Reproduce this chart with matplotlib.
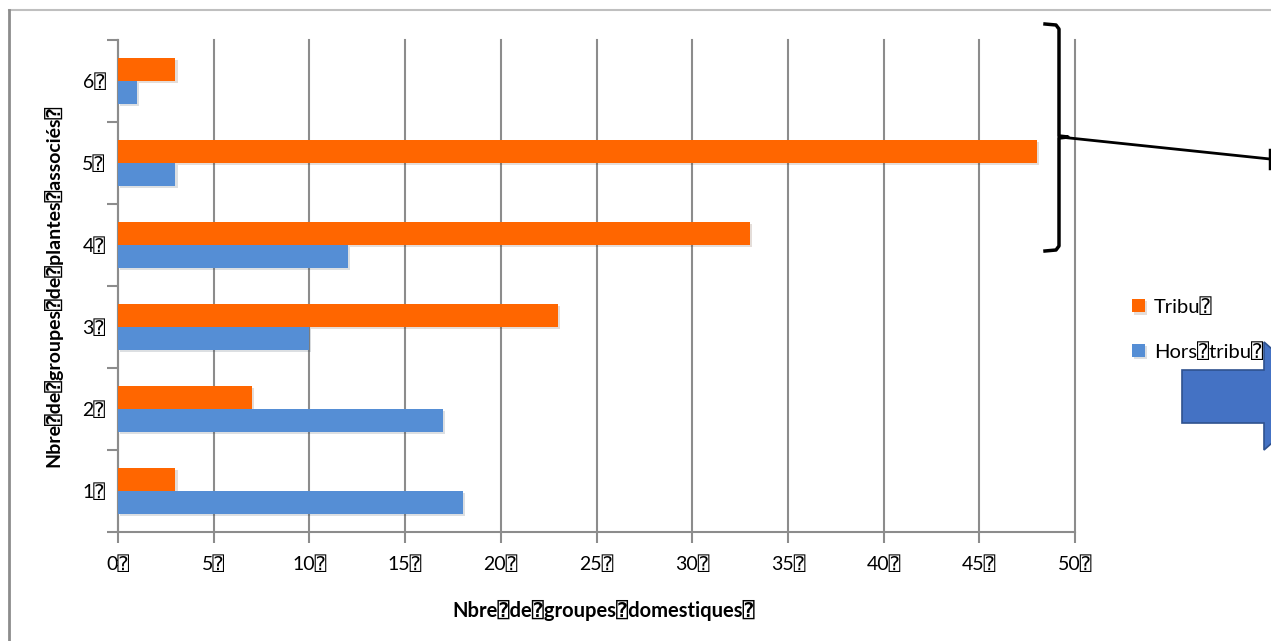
import numpy as np
import matplotlib.pyplot as plt
from matplotlib.lines import Line2D
from matplotlib.patches import Polygon
import matplotlib.patheffects as pe

plt.rcParams['font.family'] = ['Lato', 'DejaVu Sans Mono', 'DejaVu Sans']

categories = ['1⍰', '2⍰', '3⍰', '4⍰', '5⍰', '6⍰']
tribu = [3, 7, 23, 33, 48, 3]
hors_tribu = [18, 17, 10, 12, 3, 1]
xticks = list(range(0, 55, 5))
xticklabels = [f'{v}⍰' for v in xticks]

orange = '#FF6600'
blue = '#558ED5'
grid_grey = '#8C8C8C'

W, H = 1271, 641
fig = plt.figure(figsize=(W / 100, H / 100), dpi=100)


def px(x, y):
    return x / W, 1 - y / H


ax = fig.add_axes([118 / W, 109 / H, 957 / W, 492 / H])

y = np.arange(len(categories))
bh = 0.28
shadow = [pe.SimplePatchShadow(offset=(1.5, -1.5), alpha=0.15), pe.Normal()]
ax.barh(y + bh / 2, tribu, height=bh, color=orange, label='Tribu⍰',
        path_effects=shadow, zorder=3)
ax.barh(y - bh / 2, hors_tribu, height=bh, color=blue, label='Hors⍰tribu⍰',
        path_effects=shadow, zorder=3)

ax.set_xlim(0, 50)
ax.set_ylim(-0.5, len(categories) - 0.5)

ax.set_xticks(xticks)
ax.set_xticklabels(xticklabels, fontsize=14)
ax.set_yticks(np.arange(-0.5, len(categories), 1.0))
ax.set_yticklabels([])
ax.set_yticks(y, minor=True)
ax.set_yticklabels(categories, minor=True, fontsize=14)
ax.tick_params(axis='y', which='major', length=8, width=1.5, color=grid_grey)
ax.tick_params(axis='y', which='minor', length=0, pad=9)
ax.tick_params(axis='x', length=8, width=1.5, color=grid_grey, pad=9)

ax.grid(axis='x', color=grid_grey, linewidth=1.5, zorder=0)
for gl in ax.get_xgridlines():
    gl.set_clip_on(False)
ax.set_axisbelow(True)
for side in ['top', 'right']:
    ax.spines[side].set_visible(False)
for side in ['left', 'bottom']:
    ax.spines[side].set_color(grid_grey)
    ax.spines[side].set_linewidth(1.5)

ax.set_xlabel('Nbre⍰de⍰groupes⍰domestiques⍰', fontsize=14.5, fontweight='bold')
ax.set_ylabel('Nbre⍰de⍰groupes⍰de⍰plantes⍰associés⍰', fontsize=14,
              fontweight='bold')
ax.xaxis.set_label_coords(0.508, -0.138)
ax.yaxis.set_label_coords(-0.058, 0.5)

leg = fig.legend(loc='upper left', bbox_to_anchor=px(1124, 289), frameon=False,
                 fontsize=14.5, handlelength=0.65, handleheight=0.65,
                 handletextpad=0.45, labelspacing=1.3, borderaxespad=0)

# chart area frame
fig.add_artist(Line2D(*zip(px(9, 10), px(W, 10)), color='#BFBFBF', lw=1.5))
fig.add_artist(Line2D(*zip(px(9, 10), px(9, H)), color='#8C8C8C', lw=2))

# bracket grouping the upper categories
bx = [1045, 1056, 1059, 1059, 1068, 1059, 1059, 1056, 1045]
by = [24, 25, 29, 136, 137, 138, 246, 250, 251]
fig.add_artist(Line2D([px(a, 0)[0] for a in bx], [px(0, b)[1] for b in by],
                      color='black', lw=2.5, solid_joinstyle='round'))
fig.add_artist(Line2D(*zip(px(1060, 137), px(1270, 159)), color='black', lw=2))
fig.add_artist(Line2D(*zip(px(1270, 150), px(1270, 168)), color='black', lw=2.5))

# block arrow
arrow_pts = [(1182, 370), (1264, 370), (1264, 342), (1325, 396),
             (1264, 450), (1264, 423), (1182, 423)]
fig.add_artist(Polygon([px(a, b) for a, b in arrow_pts], closed=True,
                       facecolor='#4472C4', edgecolor='#2F528F', lw=1.2))

fig.savefig('out.png', dpi=100)
